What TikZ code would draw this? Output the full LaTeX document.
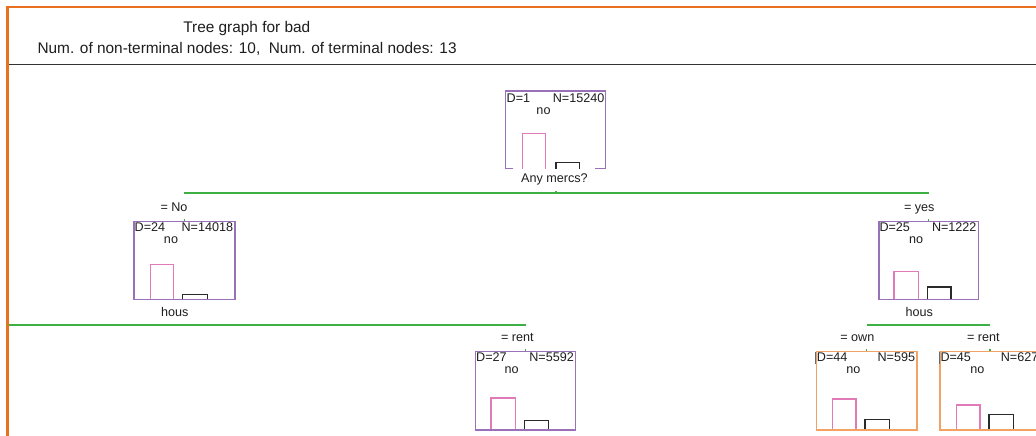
\documentclass[tikz,border=0pt]{standalone}
\usepackage{fontspec}
\setmainfont{Liberation Sans}
\definecolor{frameor}{HTML}{E8701E}
\definecolor{boxpur}{HTML}{9A70B8}
\definecolor{boxor}{HTML}{F2A264}
\definecolor{barpink}{HTML}{E07AB8}
\definecolor{bargray}{HTML}{2A2A2A}
\definecolor{edgegreen}{HTML}{3CB043}
\definecolor{txt}{HTML}{1E1E1E}
\begin{document}
\begin{tikzpicture}[x=1pt,y=-1pt,
  lbl/.style={font=\fontsize{12.6}{14}\selectfont, inner sep=0pt, text=txt},
  hdr/.style={font=\fontsize{15.4}{17}\selectfont, inner sep=0pt, text=txt},
  pbox/.style={draw=boxpur, line width=1.3pt, inner sep=0pt, minimum height=78pt, anchor=north west},
  obox/.style={draw=boxor, line width=1.3pt, inner sep=0pt, minimum height=78.3pt, anchor=north west},
  pinkbar/.style={draw=barpink, line width=1.2pt},
  graybar/.style={draw=bargray, line width=1.2pt},
  edge/.style={draw=edgegreen, line width=1.3pt}]
\useasboundingbox (0,0) rectangle (1036,436);
\clip (0,0) rectangle (1036,436);
\fill[white] (0,0) rectangle (1036,436);
% frame and header
\draw[frameor, line width=2.6pt] (7.5,436) -- (7.5,7) -- (1036,7);
\draw[black!80, line width=1.3pt] (9,64.5) -- (1036,64.5);
\node[hdr, anchor=base] (title) at (246.8,33) {Tree graph for bad};
\node[hdr, anchor=base west] (sub) at (37.3,53.5) {Num. of non-terminal nodes: 10,\ \ Num. of terminal nodes: 13};

% root node (bottom edge only partly drawn)
\node[inner sep=0pt, minimum width=100pt, minimum height=77.5pt, anchor=north west] (n1) at (505.5,91) {};
\draw[boxpur, line width=1.3pt] (513,168.5) -- (505.5,168.5) -- (505.5,91) -- (605.5,91) -- (605.5,168.5) -- (595,168.5);
\draw[pinkbar] (522.3,168.5) -- (522.3,133.7) -- (545.3,133.7) -- (545.3,168.5);
\draw[graybar] (556,168.5) -- (556,162.3) -- (579.3,162.3) -- (579.3,168.5);
\node[lbl, anchor=base west] (n1d) at (506.5,102.5) {D=1};
\node[lbl, anchor=base east] (n1n) at (604.5,102.5) {N=15240};
\node[lbl, anchor=base] (n1c) at (543.5,114) {no};
\node[lbl, anchor=base] (n1q) at (554.5,182) {Any mercs?};

% level 1
\node[pbox, minimum width=101pt] (n2) at (133.3,221) {};
\draw[pinkbar] (150.3,299) -- (150.3,264.3) -- (173.7,264.3) -- (173.7,299);
\draw[graybar] (182.7,299) -- (182.7,294.3) -- (207.3,294.3) -- (207.3,299);
\node[lbl, anchor=base] (n2e) at (174,211.5) {= No};
\node[lbl, anchor=base west] (n2d) at (134.5,231.7) {D=24};
\node[lbl, anchor=base east] (n2n) at (233.3,231.7) {N=14018};
\node[lbl, anchor=base] (n2c) at (171,243.3) {no};
\node[lbl, anchor=base] (n2q) at (174.7,316) {hous};

\node[pbox, minimum width=99.4pt] (n3) at (878.3,221) {};
\draw[pinkbar] (894,299) -- (894,271.3) -- (918.7,271.3) -- (918.7,299);
\draw[graybar] (927.7,299) -- (927.7,287) -- (951,287) -- (951,299);
\node[lbl, anchor=base] (n3e) at (919.3,211.5) {= yes};
\node[lbl, anchor=base west] (n3d) at (879.3,231.7) {D=25};
\node[lbl, anchor=base east] (n3n) at (976.7,231.7) {N=1222};
\node[lbl, anchor=base] (n3c) at (916,243.3) {no};
\node[lbl, anchor=base] (n3q) at (919.3,316) {hous};

% level 2
\node[pbox, minimum width=100pt, minimum height=78.3pt] (n4) at (475,351) {};
\draw[pinkbar] (491,429.3) -- (491,398) -- (515.7,398) -- (515.7,429.3);
\draw[graybar] (524.3,429.3) -- (524.3,420.3) -- (548.3,420.3) -- (548.3,429.3);
\node[lbl, anchor=base] (n4e) at (517.3,341.5) {= rent};
\node[lbl, anchor=base west] (n4d) at (476,361.7) {D=27};
\node[lbl, anchor=base east] (n4n) at (574,361.7) {N=5592};
\node[lbl, anchor=base] (n4c) at (511.7,373.3) {no};

\node[obox, minimum width=100.6pt] (n5) at (815.7,351) {};
\draw[bargray!70, line width=1.3pt] (n5.north west) ++(0,1) -- ++(0,12);
\draw[pinkbar] (832.7,429.3) -- (832.7,399) -- (856,399) -- (856,429.3);
\draw[graybar] (865,429.3) -- (865,419.3) -- (889.7,419.3) -- (889.7,429.3);
\node[lbl, anchor=base] (n5e) at (857.3,341.5) {= own};
\node[lbl, anchor=base west] (n5d) at (816.7,361.7) {D=44};
\node[lbl, anchor=base east] (n5n) at (915.3,361.7) {N=595};
\node[lbl, anchor=base] (n5c) at (853.3,373.3) {no};

\node[obox, minimum width=100.2pt] (n6) at (939.3,351) {};
\draw[bargray!70, line width=1.3pt] (n6.north west) ++(0,1) -- ++(0,12);
\draw[pinkbar] (956.3,429.3) -- (956.3,405) -- (980,405) -- (980,429.3);
\draw[graybar] (989,429.3) -- (989,414.7) -- (1013.3,414.7) -- (1013.3,429.3);
\node[lbl, anchor=base] (n6e) at (983.3,341.5) {= rent};
\node[lbl, anchor=base west] (n6d) at (940.3,361.7) {D=45};
\node[lbl, anchor=base east] (n6n) at (1038.5,361.7) {N=627};
\node[lbl, anchor=base] (n6c) at (977.3,373.3) {no};

% connectors
\coordinate (offl) at (9,325);
\coordinate (lvl1) at (0,193);
\coordinate (lvl2) at (0,325);
\draw[edge] (n2.north |- lvl1) -- (n3.north |- lvl1);
\draw[edge] (556,193) -- (556,191);
\draw[edge] (n2.north) -- ++(0,-2);
\draw[edge] (n3.north) -- ++(0,-2);
\draw[edge] (offl) -- (n4.north |- offl);
\draw[edge] (n5.north |- lvl2) -- (n6.north |- lvl2);
\draw[edge] (n4.north) -- ++(0,-2);
\draw[edge] (n5.north) -- ++(0,-2);
\draw[edge] (n6.north) -- ++(0,-2);
\end{tikzpicture}
\end{document}
